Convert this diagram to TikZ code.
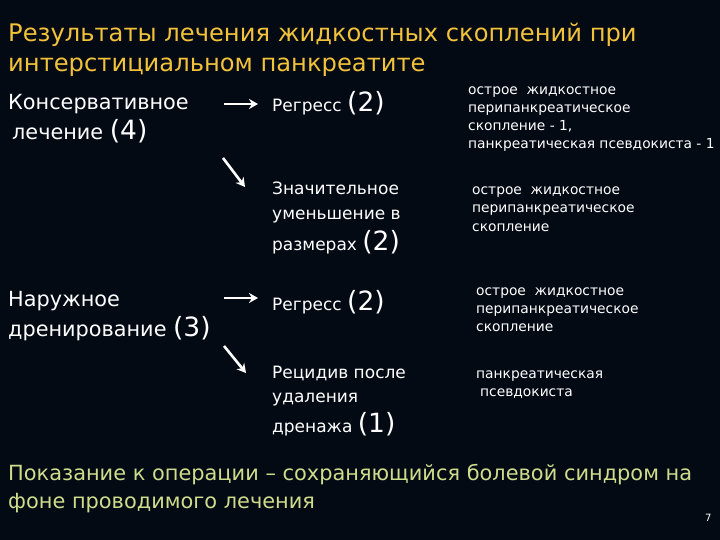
\documentclass[tikz,border=0pt]{standalone}
\usepackage{fontspec}
\setmainfont{DejaVu Sans}
\usetikzlibrary{arrows.meta}
\definecolor{slidebg}{HTML}{040A14}
\definecolor{titlegold}{HTML}{F2C23A}
\definecolor{notegreen}{HTML}{CEDC8C}
\newcommand{\colxa}{8}
\newcommand{\colxb}{272}
\newcommand{\colxc}{468}
\newcommand{\arrxa}{224}
\newcommand{\arrxb}{258}
\newcommand{\cnt}[1]{{\fontsize{26.5}{26}\selectfont(#1)}}

\begin{document}
\begin{tikzpicture}[x=1pt,y=-1pt,anchor=base west,
    every node/.style={inner sep=0pt,text=white},
    ttl/.style={font=\fontsize{24.2}{28}\selectfont,text=titlegold},
    big/.style={font=\fontsize{20.8}{24}\selectfont},
    mid/.style={font=\fontsize{17}{20}\selectfont},
    sml/.style={font=\fontsize{13.8}{16}\selectfont},
    note/.style={font=\fontsize{20.9}{24}\selectfont,text=notegreen},
    arr/.style={draw=white,line width=2.6pt,-{Stealth[length=9pt,width=10pt]}}]
    \fill[slidebg] (0,0) rectangle (720,540);
    \useasboundingbox (0,0) rectangle (720,540);

    \node[ttl] (ttla) at (\colxa, 42) {Результаты лечения жидкостных скоплений при};
    \node[ttl] (ttlb) at (\colxa, 72) {интерстициальном панкреатите};

    \node[big] (konsa) at (\colxa, 110) {Консервативное};
    \node[big] (konsb) at (\colxa+4, 140) {лечение \cnt{4}};
    \node[big] (drena) at (\colxa, 306) {Наружное};
    \node[big] (drenb) at (\colxa, 336) {дренирование \cnt{3}};

    \node[mid] (regra) at (\colxb, 112) {Регресс \cnt{2}};
    \node[mid] (umena) at (\colxb, 195) {Значительное};
    \node[mid] (umenb) at (\colxb, 220) {уменьшение в};
    \node[mid] (umenc) at (\colxb, 250) {размерах \cnt{2}};
    \node[mid] (regrb) at (\colxb, 310) {Регресс \cnt{2}};
    \node[mid] (recia) at (\colxb, 378) {Рецидив после};
    \node[mid] (recib) at (\colxb, 402) {удаления};
    \node[mid] (recic) at (\colxb, 432) {дренажа \cnt{1}};

    \node[sml] (ska) at (\colxc, 95) {острое\ \ жидкостное};
    \node[sml] (skb) at (\colxc, 113) {перипанкреатическое};
    \node[sml] (skc) at (\colxc, 131) {скопление - 1,};
    \node[sml] (skd) at (\colxc, 149) {панкреатическая псевдокиста - 1};
    \node[sml] (ske) at (\colxc+4, 195) {острое\ \ жидкостное};
    \node[sml] (skf) at (\colxc+4, 213) {перипанкреатическое};
    \node[sml] (skg) at (\colxc+4, 231) {скопление};
    \node[sml] (skh) at (\colxc+8, 295) {острое\ \ жидкостное};
    \node[sml] (ski) at (\colxc+8, 313) {перипанкреатическое};
    \node[sml] (skj) at (\colxc+8, 331) {скопление};
    \node[sml] (skk) at (\colxc+8, 378) {панкреатическая};
    \node[sml] (skl) at (\colxc+12, 396) {псевдокиста};

    \node[note] (pokaa) at (\colxa, 480) {Показание к операции – сохраняющийся болевой синдром на};
    \node[note] (pokab) at (\colxa, 508) {фоне проводимого лечения};
    \node[font=\fontsize{10}{12}\selectfont] (page) at (705, 521) {7};

    % arrows
    \coordinate (aas) at (\arrxa, 104);
    \coordinate (aae) at (\arrxb, 104);
    \coordinate (abs) at (223, 158);
    \coordinate (abe) at (245, 187);
    \coordinate (acs) at (\arrxa, 298);
    \coordinate (ace) at (\arrxb, 298);
    \coordinate (ads) at (224, 346);
    \coordinate (ade) at (246, 373);
    \draw[arr] (aas) -- (aae);
    \draw[arr] (abs) -- (abe);
    \draw[arr] (acs) -- (ace);
    \draw[arr] (ads) -- (ade);
\end{tikzpicture}
\end{document}
